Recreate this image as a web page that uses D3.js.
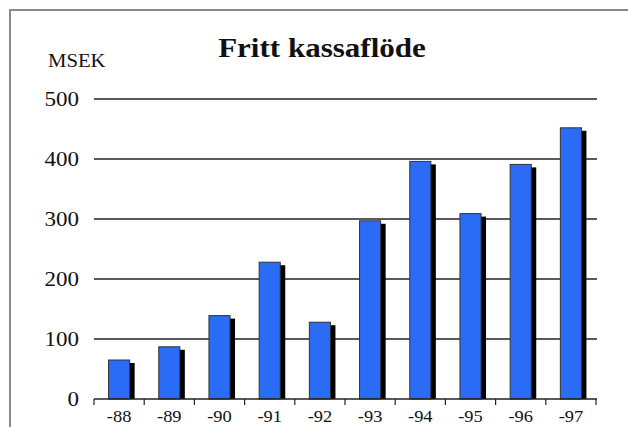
<!DOCTYPE html>
<html>
<head>
<meta charset="utf-8">
<script src="https://cdn.jsdelivr.net/npm/d3@7"></script>
<style>
  body { margin: 0; background: #fff; }
</style>
</head>
<body>
<svg id="chart" width="628" height="427"></svg>
<script>
const years = ["-88", "-89", "-90", "-91", "-92", "-93", "-94", "-95", "-96", "-97"]
const values = [65, 87, 139, 228, 128, 297, 396, 309, 391, 452]
const yTicks = [0, 100, 200, 300, 400, 500]

const font = "'Liberation Serif', 'Times New Roman', Times, serif"
const svg = d3.select("#chart")
const sx = 1.15 // the original is stretched sideways

// frame (only top and left edges are visible)
svg.append("path")
    .attr("d", "M10,427 V10 H628")
    .attr("fill", "none")
    .attr("stroke", "#8a8a8a")
    .attr("stroke-width", 2)

const x = d3.scaleBand().domain(years).range([94, 596])
const y = d3.scaleLinear().domain([0, 500]).range([399, 99])

// title + unit
svg.append("text")
    .attr("transform", `translate(322,57) scale(${sx},1)`)
    .attr("text-anchor", "middle")
    .attr("font-family", font)
    .attr("font-size", 27)
    .attr("font-weight", "bold")
    .attr("fill", "#111")
    .text("Fritt kassaflöde")

svg.append("text")
    .attr("transform", `translate(48,67) scale(${sx},1)`)
    .attr("font-family", font)
    .attr("font-size", 18)
    .attr("fill", "#111")
    .text("MSEK")

// gridlines
svg.selectAll(".grid")
    .data(yTicks.filter(d => d > 0))
    .join("line")
    .attr("x1", 94)
    .attr("x2", 597)
    .attr("y1", d => y(d))
    .attr("y2", d => y(d))
    .attr("stroke", "#222")
    .attr("stroke-width", 1.5)

// y labels
svg.selectAll(".ylab")
    .data(yTicks)
    .join("text")
    .attr("transform", d => `translate(79,${y(d) + 7}) scale(${sx},1)`)
    .attr("text-anchor", "end")
    .attr("font-family", font)
    .attr("font-size", 20)
    .attr("fill", "#111")
    .text(d => d)

const bw = x.bandwidth() * 0.42

// shadows
svg.selectAll(".shadow")
    .data(values)
    .join("rect")
    .attr("x", (d, i) => x(years[i]) + x.bandwidth() / 2 - bw / 2 + 5)
    .attr("y", d => y(d) + 3)
    .attr("width", bw)
    .attr("height", d => y(0) - y(d) - 3)
    .attr("fill", "#000")

// bars
svg.selectAll(".bar")
    .data(values)
    .join("rect")
    .attr("x", (d, i) => x(years[i]) + x.bandwidth() / 2 - bw / 2)
    .attr("y", d => y(d))
    .attr("width", bw)
    .attr("height", d => y(0) - y(d))
    .attr("fill", "#2b6cf6")
    .attr("stroke", "#333")
    .attr("stroke-width", 1)

// x axis line and ticks
svg.append("line")
    .attr("x1", 94)
    .attr("x2", 597)
    .attr("y1", y(0))
    .attr("y2", y(0))
    .attr("stroke", "#222")
    .attr("stroke-width", 1.5)

const edges = years.map(d => x(d)).concat([x(years[years.length - 1]) + x.bandwidth()])
svg.selectAll(".tick")
    .data(edges)
    .join("line")
    .attr("x1", d => d)
    .attr("x2", d => d)
    .attr("y1", y(0))
    .attr("y2", y(0) + 6)
    .attr("stroke", "#222")
    .attr("stroke-width", 1.2)

svg.selectAll(".xlab")
    .data(years)
    .join("text")
    .attr("transform", d => `translate(${x(d) + x.bandwidth() / 2},422) scale(${sx},1)`)
    .attr("text-anchor", "middle")
    .attr("font-family", font)
    .attr("font-size", 16)
    .attr("fill", "#111")
    .text(d => d)
</script>
</body>
</html>
